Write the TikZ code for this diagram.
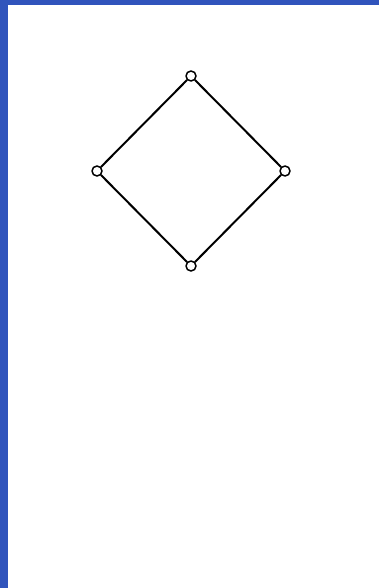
\documentclass[tikz,border=0pt]{standalone}
\definecolor{frameblue}{RGB}{48,84,188}
\begin{document}
\begin{tikzpicture}[x=1pt,y=-1pt,line cap=round,line join=round,
  vertex/.style={circle,draw,fill=white,line width=1.5pt,inner sep=0pt,minimum size=10pt}]
  \useasboundingbox (0,0) rectangle (379,588);
  \fill[frameblue] (0,0) rectangle (379,5);
  \fill[frameblue] (0,0) rectangle (8,588);
  \node[vertex] (top) at (191,76) {};
  \node[vertex] (left) at (97,171) {};
  \node[vertex] (right) at (285,171) {};
  \node[vertex] (bottom) at (191,266) {};
  \draw[line width=2pt] (top) -- (left);
  \draw[line width=2pt] (top) -- (right);
  \draw[line width=2pt] (left) -- (bottom);
  \draw[line width=2pt] (right) -- (bottom);
\end{tikzpicture}
\end{document}
